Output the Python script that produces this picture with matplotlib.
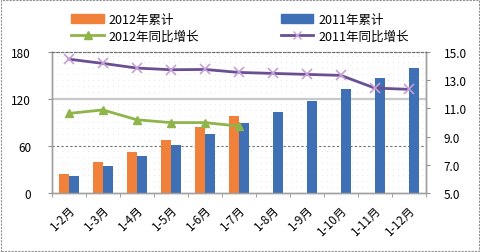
import numpy as np
import matplotlib.pyplot as plt
from matplotlib.lines import Line2D
from matplotlib.patches import Patch, Rectangle

plt.rcParams['font.family'] = ['Noto Sans CJK SC', 'DejaVu Sans']

months = ['1-2月', '1-3月', '1-4月', '1-5月', '1-6月', '1-7月',
          '1-8月', '1-9月', '1-10月', '1-11月', '1-12月']
cum_2012 = [24.3, 39.2, 52.8, 67.7, 84.3, 98.3]
cum_2011 = [21.3, 34.5, 47.2, 60.9, 74.9, 89.0, 103.8, 117.8, 132.8, 146.4, 159.2]
yoy_2012 = [10.65, 10.9, 10.2, 10.0, 10.0, 9.75]
yoy_2011 = [14.5, 14.2, 13.87, 13.75, 13.77, 13.56, 13.49, 13.42, 13.35, 12.45, 12.36]

c_orange = '#f0803a'
c_blue = '#3f6fb5'
c_green = '#8fb54a'
c_purple = '#6a4f92'

fig = plt.figure(figsize=(4.8, 2.53), dpi=100)
fig.patches.append(Rectangle((0.003, 0.004), 0.994, 0.992, transform=fig.transFigure,
                             fill=False, edgecolor='#909090', lw=0.8, ls=(0, (2, 1))))
ax = fig.add_axes([0.108, 0.233, 0.779, 0.557])
ax2 = ax.twinx()

x = np.arange(len(months))
w = 0.29
ax.bar(x[:len(cum_2012)] - w / 2, cum_2012, w, color=c_orange, zorder=3)
ax.bar(x + w / 2, cum_2011, w, color=c_blue, zorder=3)

ax.set_xlim(-0.5, len(months) - 0.5)
ax.set_ylim(0, 180)
ax.set_yticks([0, 60, 120, 180])
ax.axhline(60, color='#707070', lw=0.8, ls=(0, (2, 2)), zorder=1)
ax.axhline(120, color='#c8c8c8', lw=1.6, zorder=1)

# dotted background pattern
for yy in np.arange(7.5, 180, 7.6):
    ax.axhline(yy, color='#c8c8c8', lw=0.6, ls=(0, (0.6, 5.5)), zorder=0)

ax.set_xticks(x)
ax.set_xticklabels(months, rotation=45, ha='right', va='top', rotation_mode='anchor')
ax.set_xticks(np.arange(-0.5, len(months)), minor=True)
ax.tick_params(axis='x', which='major', length=0, pad=7, labelsize=8.5)
ax.tick_params(axis='x', which='minor', length=3, color='#909090')
ax.tick_params(axis='y', length=3, color='#909090', labelsize=8.5, pad=12)

ax2.plot(x[:len(yoy_2012)], yoy_2012, color=c_green, lw=2, marker='^', ms=6,
         markerfacecolor=c_green, markeredgecolor=c_green, zorder=4)
ax2.plot(x, yoy_2011, color=c_purple, lw=2, marker='x', ms=7, mew=1.2,
         markeredgecolor='#c8a0d8', zorder=4)
ax2.set_ylim(5, 15)
ax2.set_yticks([5, 7, 9, 11, 13, 15])
ax2.set_yticklabels([f'{v:.1f}' for v in [5, 7, 9, 11, 13, 15]])
ax2.tick_params(axis='y', length=3, color='#909090', labelsize=8.5, pad=10)

for a in (ax, ax2):
    a.spines['top'].set_linestyle((0, (2, 2)))
    a.spines['top'].set_color('#707070')
    a.spines['top'].set_linewidth(0.8)
    for s in ('left', 'right', 'bottom'):
        a.spines[s].set_color('#a0a0a0')
        a.spines[s].set_linewidth(1.0)

handles = [Patch(color=c_orange),
           Line2D([], [], color=c_green, lw=2, marker='^', ms=6),
           Patch(color=c_blue),
           Line2D([], [], color=c_purple, lw=2, marker='x', ms=6, markeredgecolor='#c8a0d8')]
labels = ['2012年累计', '2012年同比增长', '2011年累计', '2011年同比增长']
fig.legend(handles, labels, ncol=2, loc='upper left', bbox_to_anchor=(0.125, 0.99),
           frameon=False, fontsize=9, columnspacing=6.5, handlelength=2.6,
           handletextpad=0.4, labelspacing=0.3)

fig.savefig('out.png', dpi=100)
